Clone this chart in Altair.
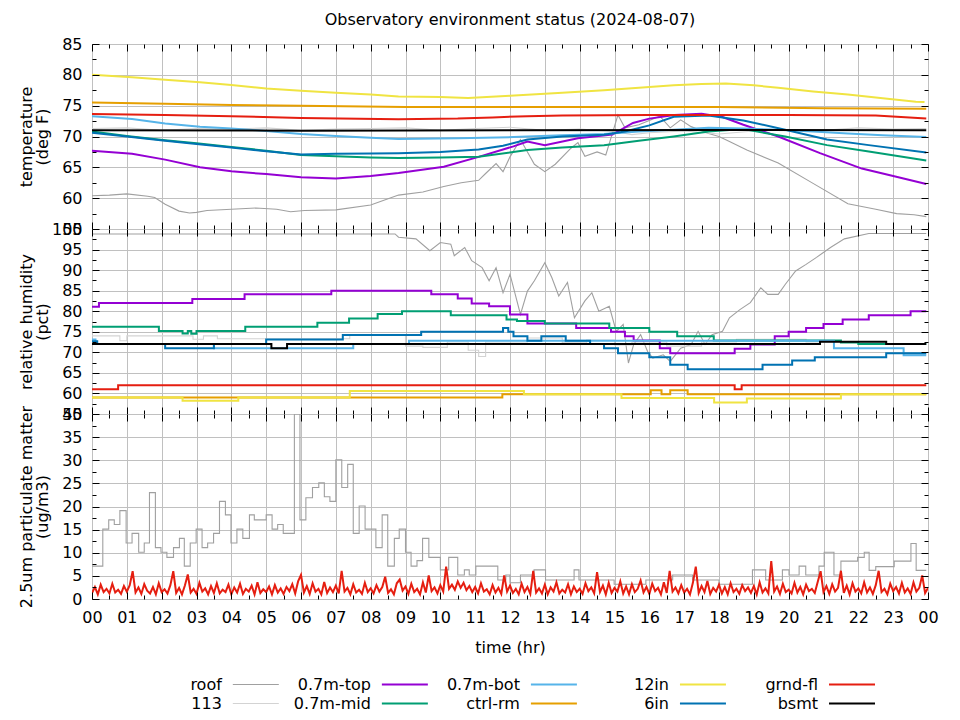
import altair as alt
import pandas as pd

FONT = "DejaVu Sans"
GRID = "#c0c0c0"

TITLE = "Observatory environment status (2024-08-07)"
SERIES = ["roof", "113", "0.7m-top", "0.7m-mid", "0.7m-bot", "ctrl-rm", "12in", "6in", "grnd-fl", "bsmt"]
COLORS = ["#a0a0a0", "#d3d3d3", "#9400d3", "#009e73", "#56b4e9", "#e69f00", "#f0e442", "#0072b2", "#e51e10", "#000000"]
WIDTHS = [1.1, 1.1, 2, 2, 2, 2, 2, 2, 2, 2]
THIN = ["roof", "113"]
X_TICKS = list(range(0, 25))
TEMP_TITLE = ["temperature", "(deg F)"]
RH_TITLE = ["relative humidity", "(pct)"]
PM_TITLE = ["2.5um particulate matter", "(ug/m3)"]
X_TITLE = "time (hr)"

# ---------------- temperature (deg F) ----------------
t_roof_hr = [0, 0.5, 1.0, 1.6, 1.8, 2.1, 2.5, 2.8, 3.0, 3.3, 4.0, 4.7, 5.3, 5.7, 6.1, 7.0, 8.0, 8.8, 9.5, 10.1,
             10.6, 11.1, 11.3, 11.6, 11.8, 12.0, 12.3, 12.7, 13.0, 13.3, 13.75, 13.95, 14.15, 14.5, 14.75, 15.1, 15.3, 15.7, 16.3, 16.6,
             16.9, 17.2, 17.7, 18.0, 18.3, 18.8, 19.7, 20.7, 21.7, 22.5, 23.1, 23.6, 23.95]
t_roof = [60.4, 60.5, 60.7, 60.3, 60.1, 59.0, 57.9, 57.6, 57.7, 58.0, 58.2, 58.4, 58.2, 57.8, 58.0, 58.1, 58.9, 60.5, 61.0, 61.9,
          62.5, 62.9, 64.0, 65.6, 64.3, 66.7, 69.5, 65.5, 64.3, 65.5, 68.1, 69.0, 66.8, 67.5, 67.0, 73.5, 71.4, 71.9, 73.3, 71.4,
          72.7, 71.6, 70.5, 70.0, 69.2, 67.8, 65.7, 62.4, 59.1, 58.2, 57.5, 57.3, 57.0]
t_113_hr = [0, 1, 2, 3, 4, 5, 6, 7, 8, 9, 10, 11, 12, 13, 14, 15, 15.5, 16, 17, 18, 19, 20, 21, 22, 23, 23.95]
t_113 = [71.3, 71.4, 71.0, 71.3, 71.2, 71.4, 71.0, 71.2, 71.3, 71.4, 71.0, 71.3, 71.5, 71.0, 71.2, 70.8, 70.3, 70.6, 70.9,
         70.4, 70.9, 71.1, 71.0, 71.4, 71.2, 71.3]
t_top_hr = [0, 1.15, 2.1, 3.1, 4.0, 5.0, 6.0, 7.0, 8.0, 8.8, 10.1, 11.1, 12.1, 12.5, 13.0, 13.95, 14.94, 15.53, 16.0, 16.72,
            17.5, 18.1, 18.7, 19.7, 20.9, 22.1, 23.06, 23.95]
t_top = [67.7, 67.2, 66.25, 65.0, 64.35, 63.9, 63.4, 63.2, 63.6, 64.1, 65.1, 66.7, 68.4, 69.2, 68.6, 69.7, 70.3, 72.2, 72.9, 73.5,
         73.7, 73.15, 71.9, 70.0, 67.3, 64.8, 63.5, 62.3]
t_mid_hr = [0, 1.0, 2.1, 3.0, 4.0, 5.0, 6.0, 7.0, 8.0, 8.8, 10.0, 11.1, 12.5, 13.5, 14.7, 15.7, 16.7, 17.7, 18.7, 19.9,
            21.1, 22.3, 23.95]
t_mid = [70.8, 70.1, 69.4, 68.9, 68.3, 67.7, 67.0, 66.8, 66.6, 66.5, 66.6, 66.7, 67.8, 68.2, 68.6, 69.3, 70.0, 70.8, 71.2, 70.0,
         68.6, 67.55, 66.1]
t_bot_hr = [0, 1.15, 2.1, 3.1, 4.0, 5.0, 6.0, 7.0, 8.0, 8.8, 10.5, 12.1, 13.5, 14.7, 15.7, 16.7, 17.7, 18.7, 19.7, 20.7,
            21.7, 22.7, 23.95]
t_bot = [73.3, 72.85, 72.1, 71.6, 71.3, 70.9, 70.4, 70.1, 69.8, 69.6, 69.7, 69.9, 70.2, 70.4, 70.8, 71.1, 71.4, 71.3, 71.1, 70.8,
         70.5, 70.2, 69.9]
t_ctrl_hr = [0, 2.1, 4.0, 6.0, 9.0, 12.0, 15.0, 18.0, 21.0, 23.95]
t_ctrl = [75.5, 75.3, 75.1, 75.0, 74.8, 74.8, 74.8, 74.8, 74.6, 74.5]
t_12in_hr = [0, 1.15, 2.1, 3.1, 4.0, 5.0, 6.0, 7.0, 8.0, 8.8, 10.0, 10.8, 12.0, 13.5, 14.7, 15.7, 16.7, 17.5, 18.2, 19.0,
             19.7, 20.7, 21.7, 22.7, 23.65, 23.9]
t_12in = [80.0, 79.6, 79.2, 78.8, 78.35, 77.8, 77.4, 77.1, 76.8, 76.5, 76.4, 76.25, 76.6, 77.1, 77.5, 77.9, 78.3, 78.5, 78.6, 78.3,
          77.9, 77.3, 76.8, 76.2, 75.65, 75.6]
t_6in_hr = [0, 1.0, 2.1, 3.0, 4.0, 5.0, 6.0, 7.0, 8.0, 8.8, 10.0, 11.1, 11.8, 12.5, 13.5, 14.7, 15.3, 16.0, 16.7, 17.7,
            18.7, 19.9, 21.1, 22.3, 23.95]
t_6in = [70.6, 70.0, 69.3, 68.8, 68.2, 67.6, 67.1, 67.2, 67.25, 67.3, 67.5, 67.9, 68.5, 69.5, 70.0, 70.3, 70.8, 71.8, 73.2, 73.4,
         72.6, 71.1, 69.5, 68.6, 67.4]
t_grnd_hr = [0, 2.1, 4.0, 6.0, 8.8, 10.5, 11.5, 12.5, 13.5, 16.0, 20.0, 22.5, 23.95]
t_grnd = [73.65, 73.5, 73.3, 73.0, 72.8, 72.9, 73.1, 73.3, 73.4, 73.5, 73.5, 73.4, 72.9]
t_bsmt_hr = [0, 6, 12, 18, 23.95]
t_bsmt = [71.0, 70.95, 71.0, 71.05, 71.0]

# ---------------- relative humidity (pct) ----------------
h_roof_hr = [0, 8.7, 8.8, 9.3, 9.7, 10.0, 10.3, 10.4, 10.7, 10.9, 11.2, 11.4, 11.6, 11.8, 12.0, 12.3, 12.5, 12.7, 13.0, 13.2,
             13.4, 13.65, 13.85, 14.15, 14.35, 14.55, 14.85, 15.05, 15.25, 15.4, 15.55, 15.75, 15.95, 16.1, 16.4, 16.6, 16.9, 17.2,
             17.4, 17.6, 17.8, 18.1, 18.3, 18.6, 18.9, 19.2, 19.4, 19.7, 19.9, 20.2, 20.5, 20.8, 21.2, 21.6, 22.3, 23.95]
h_roof = [98.8, 98.8, 98.0, 97.6, 94.7, 96.7, 96.3, 93.5, 95.5, 92.3, 90.6, 87.4, 90.6, 84.5, 89.0, 79.2, 84.9, 87.4, 91.8, 88.2,
          83.7, 87.0, 78.4, 82.5, 84.5, 80.0, 81.2, 75.1, 76.8, 67.4, 71.9, 74.3, 70.2, 68.6, 69.4, 67.8, 71.0, 71.9,
          75.1, 71.9, 74.3, 75.1, 78.4, 80.4, 82.1, 85.7, 84.1, 84.1, 86.5, 89.8, 91.4, 93.1, 95.5, 97.6, 98.9, 98.9]
h_113_hr = [0, 0.8, 1.0, 2.9, 3.2, 3.6, 4.5, 7.4, 9.0, 9.5, 10.2, 10.8, 11.1, 11.3, 12.5, 13.5, 14.2, 15.0, 15.5, 16.5,
            17.5, 18.5, 20.5, 22.0, 23.95]
h_113 = [74.0, 72.8, 74.0, 73.2, 74.0, 73.3, 73.3, 74.2, 71.5, 71.2, 72.5, 70.5, 69.0, 72.5, 73.5, 72.3, 73.0, 71.8, 72.5, 71.5,
         72.5, 73.2, 72.5, 72.0, 72.0]
h_top_hr = [0, 0.2, 2.88, 4.38, 6.87, 9.74, 10.5, 10.9, 11.4, 12.0, 12.5, 13.9, 14.9, 15.3, 15.55, 16.3, 16.6, 18.45, 18.9, 19.6,
            20.0, 20.5, 21.0, 21.55, 22.3, 23.5, 23.95]
h_top = [81.1, 82.0, 83.0, 84.1, 85.0, 84.1, 83.1, 81.9, 81.2, 79.2, 77.0, 75.9, 75.0, 73.9, 72.9, 71.0, 69.8, 70.9, 71.9, 73.9,
         75.0, 75.9, 76.9, 78.0, 79.0, 80.0, 80.0]
h_mid_hr = [0, 1.92, 2.6, 2.75, 2.85, 3.0, 4.4, 6.47, 7.38, 8.2, 8.9, 10.3, 11.9, 12.2, 13.0, 14.85, 16.0, 16.8, 17.85, 21.5,
            22.0, 23.95]
h_mid = [76.2, 75.2, 74.6, 75.2, 74.5, 75.2, 76.2, 77.2, 78.2, 79.3, 80.0, 79.0, 78.0, 77.6, 77.0, 75.9, 75.0, 73.9, 72.9, 72.4,
         72.0, 72.0]
h_bot_hr = [0, 0.1, 3.5, 7.5, 9.1, 21.3, 23.3, 23.95]
h_bot = [73.1, 72.0, 71.0, 72.0, 72.8, 71.0, 69.3, 69.3]
h_ctrl_hr = [0, 11.78, 16.04, 16.35, 16.6, 17.1, 23.95]
h_ctrl = [59.0, 59.8, 60.8, 59.8, 60.8, 59.8, 59.8]
h_12in_hr = [0, 2.6, 4.2, 7.4, 12.4, 15.2, 17.86, 18.8, 21.5, 23.95]
h_12in = [59.0, 58.2, 59.0, 60.6, 59.8, 58.9, 57.8, 58.8, 59.8, 59.8]
h_6in_hr = [0, 0.15, 2.1, 3.5, 5.0, 7.2, 9.45, 11.8, 11.95, 12.1, 12.5, 12.9, 13.6, 14.3, 14.7, 15.1, 16.0, 16.6, 17.1, 19.25,
            20.1, 20.75, 22.8, 23.95]
h_6in = [72.7, 72.0, 71.0, 72.0, 73.1, 74.2, 75.0, 75.9, 75.0, 73.9, 72.8, 73.9, 72.8, 72.0, 71.0, 69.8, 68.8, 67.0, 65.9, 67.0,
         68.0, 68.8, 69.8, 69.8]
h_grnd_hr = [0, 0.75, 18.45, 18.65, 23.95]
h_grnd = [61.0, 62.0, 61.0, 62.0, 62.0]
h_bsmt_hr = [0, 5.15, 5.6, 20.9, 22.8, 23.95]
h_bsmt = [72.0, 71.0, 72.0, 72.6, 72.0, 72.0]

# ---------------- 2.5um particulate matter (ug/m3) ----------------
pm_roof_hr = [0, 0.31, 0.48, 0.64, 0.8, 0.98, 1.15, 1.34, 1.5, 1.65, 1.82, 1.98, 2.15, 2.34, 2.51, 2.65, 2.82, 2.99, 3.16, 3.32,
              3.49, 3.66, 3.83, 3.99, 4.16, 4.33, 4.52, 4.66, 5.0, 5.17, 5.33, 5.49, 5.81, 5.97, 6.14, 6.33, 6.51, 6.67, 6.83, 7.0,
              7.17, 7.34, 7.5, 7.67, 7.84, 8.15, 8.33, 8.49, 8.68, 8.82, 9.0, 9.16, 9.33, 9.49, 9.67, 10.0, 10.24, 10.5, 10.69, 10.83,
              11.02, 11.65, 11.88, 12.0, 12.3, 12.69, 13.02, 13.84, 13.98, 14.99, 15.9, 16.67, 17.24, 18.0, 18.96, 19.34, 19.82, 20.01, 20.3, 20.49,
              20.87, 21.02, 21.3, 21.5, 21.98, 22.17, 22.31, 22.5, 23.03, 23.51, 23.66, 23.95]
pm_roof = [7.1, 15.1, 17.1, 16.1, 19.1, 12.1, 14.2, 10.1, 12.1, 23.0, 11.1, 10.1, 9.0, 11.1, 13.1, 7.1, 12.1, 15.1, 11.1, 12.1,
           14.2, 21.1, 18.2, 12.1, 15.1, 13.1, 18.2, 17.1, 18.2, 15.1, 16.1, 14.2, 40.0, 17.1, 21.9, 24.1, 25.1, 22.1, 21.1, 30.1,
           24.1, 29.1, 14.2, 20.1, 15.1, 11.1, 18.2, 7.1, 13.1, 15.1, 10.1, 7.1, 8.3, 13.1, 9.0, 6.3, 9.0, 5.2, 6.3, 5.2,
           7.1, 4.1, 5.2, 3.5, 5.2, 6.3, 4.1, 6.3, 4.1, 3.2, 4.1, 5.2, 4.1, 3.2, 6.3, 4.1, 6.3, 5.2, 7.1, 5.2,
           7.1, 10.1, 5.2, 8.2, 9.0, 10.1, 6.2, 7.0, 8.2, 12.0, 6.2, 6.2]
# grnd-fl, one reading every 5 minutes (one row per hour)
pm_grnd = [1.3, 2.6, 1.0, 3.1, 1.5, 2.2, 1.2, 3.3, 1.4, 2.0, 1.1, 2.8,
           1.6, 3.0, 6.0, 1.4, 2.5, 1.1, 3.2, 1.8, 1.2, 2.6, 1.0, 3.4,
           1.5, 2.1, 1.2, 3.0, 6.0, 1.3, 2.4, 1.0, 2.9, 5.3, 1.4, 2.2,
           1.1, 3.5, 1.6, 2.3, 1.0, 2.8, 1.3, 3.4, 1.2, 2.0, 1.5, 3.1,
           1.0, 2.5, 1.4, 3.3, 1.1, 2.2, 1.6, 2.9, 1.0, 3.6, 1.3, 2.1,
           1.5, 2.7, 1.0, 3.0, 1.4, 2.3, 1.1, 2.6, 1.7, 3.2, 1.2, 3.8,
           5.2, 1.4, 2.8, 1.1, 3.4, 1.6, 2.2, 1.0, 3.7, 1.3, 2.5, 1.5,
           2.9, 1.2, 6.1, 1.6, 2.4, 1.0, 3.2, 1.4, 2.0, 1.1, 3.5, 1.5,
           2.3, 1.2, 3.0, 1.6, 2.6, 4.8, 1.3, 2.1, 1.0, 3.4, 4.2, 1.8,
           2.7, 1.1, 3.3, 1.5, 2.2, 1.0, 3.6, 1.4, 5.1, 1.7, 2.5, 1.2,
           3.0, 1.6, 7.0, 2.2, 3.1, 2.0, 3.8, 2.4, 3.5, 1.9, 2.8, 1.5,
           2.6, 1.2, 3.4, 1.6, 2.1, 1.0, 3.0, 1.4, 2.4, 1.1, 5.1, 1.6,
           2.9, 1.3, 2.2, 1.0, 3.3, 1.5, 2.6, 1.1, 6.1, 1.4, 2.3, 1.2,
           3.1, 1.0, 2.5, 1.6, 3.6, 1.2, 2.0, 1.4, 3.2, 1.0, 2.7, 1.5,
           2.2, 1.1, 3.4, 1.7, 2.5, 1.2, 5.8, 1.5, 2.9, 1.0, 3.5, 1.3,
           2.4, 1.6, 3.8, 1.2, 2.7, 1.0, 3.2, 1.5, 2.2, 4.0, 1.4, 2.6,
           1.1, 3.3, 1.7, 2.4, 1.0, 3.6, 1.3, 6.1, 1.6, 2.5, 1.2, 3.0,
           1.4, 2.2, 1.0, 3.5, 7.0, 1.3, 2.8, 1.5, 3.9, 1.1, 2.4, 1.6,
           3.1, 1.2, 2.6, 1.0, 3.4, 1.5, 2.2, 1.1, 3.0, 1.7, 2.5, 1.3,
           2.8, 1.0, 3.6, 1.4, 2.3, 1.2, 8.2, 1.6, 2.7, 1.1, 3.3, 1.5,
           2.0, 1.2, 3.5, 1.4, 2.6, 1.0, 3.1, 1.7, 2.2, 1.3, 3.7, 6.0,
           1.5, 2.8, 1.1, 3.2, 1.6, 2.4, 6.1, 1.3, 2.9, 1.0, 3.4, 1.6,
           2.3, 1.2, 3.6, 1.4, 2.5, 1.1, 3.0, 6.1, 1.5, 2.2, 1.0, 3.3,
           1.7, 2.6, 1.2, 3.5, 1.4, 2.3, 1.1, 3.6, 1.6, 2.4, 5.1, 1.3,
           2.4]
pm_grnd_hr = [i * 5 / 60 for i in range(len(pm_grnd))]

TEMP = [("roof", t_roof_hr, t_roof, False), ("113", t_113_hr, t_113, False), ("0.7m-top", t_top_hr, t_top, False),
        ("0.7m-mid", t_mid_hr, t_mid, False), ("0.7m-bot", t_bot_hr, t_bot, False), ("ctrl-rm", t_ctrl_hr, t_ctrl, False),
        ("12in", t_12in_hr, t_12in, False), ("6in", t_6in_hr, t_6in, False), ("grnd-fl", t_grnd_hr, t_grnd, False),
        ("bsmt", t_bsmt_hr, t_bsmt, False)]
RH = [("roof", h_roof_hr, h_roof, False), ("113", h_113_hr, h_113, True), ("0.7m-top", h_top_hr, h_top, True),
      ("0.7m-mid", h_mid_hr, h_mid, True), ("0.7m-bot", h_bot_hr, h_bot, True), ("ctrl-rm", h_ctrl_hr, h_ctrl, True),
      ("12in", h_12in_hr, h_12in, True), ("6in", h_6in_hr, h_6in, True), ("grnd-fl", h_grnd_hr, h_grnd, True),
      ("bsmt", h_bsmt_hr, h_bsmt, True)]
PM = [("roof", pm_roof_hr, pm_roof, True), ("grnd-fl", pm_grnd_hr, pm_grnd, False)]

LABEL_EXPR = "datum.value == 24 ? '00' : (datum.value < 10 ? '0' + datum.value : '' + datum.value)"
W, H = 836, 185


def tick_axis(orient, values, size):
    return alt.Axis(orient=orient, values=values, ticks=True, tickSize=size, tickColor="black", tickWidth=1,
                    offset=-size, labels=False, domain=False, grid=False, title=None, zindex=1)


def panel(series, ydom, ystep, ytitle, bottom):
    xs = alt.Scale(domain=[0, 24], nice=False, zero=False)
    ys = alt.Scale(domain=ydom, nice=False, zero=False)
    y_major = list(range(ydom[0], ydom[1] + 1, ystep))
    y_minor = [v + ystep / 2 for v in y_major[:-1]]
    x_minor = [v + 0.5 for v in X_TICKS[:-1]]
    frame = pd.DataFrame({"hr": [0, 24], "val": ydom})

    x_main = alt.Axis(values=X_TICKS, grid=True, gridColor=GRID, gridWidth=1, ticks=False, tickSize=0, domain=False,
                      labels=bottom, labelExpr=LABEL_EXPR, labelFlush=False, labelOverlap=False, labelPadding=10,
                      title=X_TITLE if bottom else None, titlePadding=14)
    y_main = alt.Axis(values=y_major, grid=True, gridColor=GRID, gridWidth=1, ticks=False, tickSize=0, domain=False,
                      labelFlush=False, labelOverlap=False, labelPadding=10, title=ytitle, titleX=-58,
                      titleBaseline="bottom", titleLineHeight=16, titleAngle=270)
    layers = [alt.Chart(frame).mark_point(opacity=0).encode(
        x=alt.X("hr:Q", scale=xs, axis=x_main), y=alt.Y("val:Q", scale=ys, axis=y_main))]

    for name, hr, vals, step in series:
        i = SERIES.index(name)
        df = pd.DataFrame({"hr": hr, "val": vals})
        layers.append(alt.Chart(df).mark_line(
            color=COLORS[i], strokeWidth=WIDTHS[i], clip=True,
            interpolate="step-after" if step else "linear").encode(
            x=alt.X("hr:Q", scale=xs, axis=None), y=alt.Y("val:Q", scale=ys, axis=None)))

    for xo, yo, xv, yv, size in [("bottom", "left", X_TICKS, y_major, 7), ("bottom", "left", x_minor, y_minor, 4),
                                 ("top", "right", X_TICKS, y_major, 7), ("top", "right", x_minor, y_minor, 4)]:
        layers.append(alt.Chart(frame).mark_point(opacity=0).encode(
            x=alt.X("hr:Q", scale=xs, axis=tick_axis(xo, xv, size)),
            y=alt.Y("val:Q", scale=ys, axis=tick_axis(yo, yv, size))))

    return alt.layer(*layers).resolve_axis(x="independent", y="independent").properties(width=W, height=H)


p1 = panel(TEMP, [55, 85], 5, TEMP_TITLE, False).properties(
    title=alt.TitleParams(TITLE, anchor="middle", frame="group", offset=8, fontSize=16, font=FONT,
                          fontWeight="normal", color="black"))
p2 = panel(RH, [55, 100], 5, RH_TITLE, False)
p3 = panel(PM, [0, 40], 5, PM_TITLE, True)

stack = alt.vconcat(p1, p2, p3, spacing=0, bounds="flush")

# legend: label then line sample, filled column by column
leg_df = pd.DataFrame({"series": SERIES, "col": [i // 2 for i in range(len(SERIES))],
                       "row": [i % 2 for i in range(len(SERIES))]})
lx = alt.Scale(domain=[-0.871, 4.738], nice=False, zero=False)
ly = alt.Scale(domain=[-0.5, 1.5], reverse=True, nice=False, zero=False)
leg_color = alt.Color("series:N", scale=alt.Scale(domain=SERIES, range=COLORS), legend=None)
leg_text = alt.Chart(leg_df).mark_text(align="right", baseline="middle", fontSize=16, font=FONT, color="black").encode(
    x=alt.X("col:Q", scale=lx, axis=None), y=alt.Y("row:Q", scale=ly, axis=None), text="series:N")
leg_thin = alt.Chart(leg_df).transform_filter(
    alt.FieldOneOfPredicate(field="series", oneOf=THIN)
).mark_rule(xOffset=11, x2Offset=57, strokeWidth=1.1).encode(
    x=alt.X("col:Q", scale=lx, axis=None), x2="col:Q", y=alt.Y("row:Q", scale=ly, axis=None), color=leg_color)
leg_thick = alt.Chart(leg_df).transform_filter(
    ~alt.FieldOneOfPredicate(field="series", oneOf=THIN)
).mark_rule(xOffset=11, x2Offset=57, strokeWidth=2).encode(
    x=alt.X("col:Q", scale=lx, axis=None), x2="col:Q", y=alt.Y("row:Q", scale=ly, axis=None), color=leg_color)
legend = alt.layer(leg_thin, leg_thick, leg_text).properties(
    width=W, height=38, view=alt.ViewBackground(stroke="transparent"))

chart = alt.vconcat(stack, legend, spacing=18).properties(
    padding={"left": 9, "top": 3, "right": 5, "bottom": 5}
).configure(font=FONT).configure_view(stroke="black", strokeWidth=1).configure_axis(
    labelFont=FONT, labelFontSize=16, titleFont=FONT, titleFontSize=16, titleFontWeight="normal",
    labelColor="black", titleColor="black")

chart.save("out.html", embed_options={"renderer": "svg", "actions": False})
